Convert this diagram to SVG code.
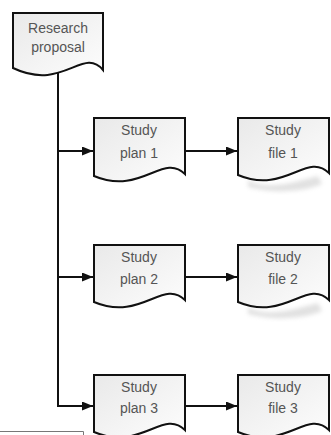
<svg xmlns="http://www.w3.org/2000/svg" width="331" height="435" viewBox="0 0 331 435">
<style>
.box{fill:url(#g);stroke:#111;stroke-width:2}
.t{font-family:"Liberation Sans",Arial,sans-serif;font-size:14px;fill:#555;text-anchor:middle}
.c{stroke:#111;stroke-width:2;fill:none}
.sh{fill:#aaa;opacity:0.35;filter:url(#b)}
</style>
<defs>
<linearGradient id="g" x1="0" y1="0" x2="1" y2="1">
<stop offset="0" stop-color="#e9e9e9"/>
<stop offset="1" stop-color="#fdfdfd"/>
</linearGradient>
<filter id="b" x="-20%" y="-20%" width="140%" height="140%"><feGaussianBlur stdDeviation="2"/></filter>
<marker id="a" markerWidth="11" markerHeight="9" refX="11" refY="4.5" orient="auto" markerUnits="userSpaceOnUse">
<path d="M0,0 L11,4.5 L0,9 Z" fill="#111"/>
</marker>
</defs>
<rect width="331" height="435" fill="#fff"/>
<g id="connectors">
<path class="c" d="M58,72 V406 H93" marker-end="url(#a)"/>
<path class="c" d="M58,151 H93" marker-end="url(#a)"/>
<path class="c" d="M58,277 H93" marker-end="url(#a)"/>
<path class="c" d="M185,151 H237" marker-end="url(#a)"/>
<path class="c" d="M185,277 H237" marker-end="url(#a)"/>
<path class="c" d="M185,406 H237" marker-end="url(#a)"/>
</g>
<g id="research">
<path class="box" d="M13,13 H103 V70 C83,46 63,92 13,68 Z"/>
<text class="t" x="58" y="33">Research</text>
<text class="t" x="58" y="52">proposal</text>
</g>
<g id="plan1">
<path class="box" d="M94,118 H185 V174 C163,152 141,196 94,176 Z"/>
<text class="t" x="139" y="135">Study</text>
<text class="t" x="139" y="158">plan 1</text>
</g>
<g id="file1">
<path class="sh" d="M248,180 C265,190 290,184 318,176 L322,184 C300,193 270,193 248,187 Z"/>
<path class="box" d="M238,118 H329 V173 C307,151 285,195 238,175 Z"/>
<text class="t" x="283" y="135">Study</text>
<text class="t" x="283" y="158">file 1</text>
</g>
<g id="plan2">
<path class="box" d="M94,245 H185 V300 C163,278 141,322 94,302 Z"/>
<text class="t" x="139" y="262">Study</text>
<text class="t" x="139" y="284">plan 2</text>
</g>
<g id="file2">
<path class="sh" d="M248,307 C265,317 290,311 318,303 L322,311 C300,320 270,320 248,314 Z"/>
<path class="box" d="M238,245 H329 V300 C307,278 285,322 238,302 Z"/>
<text class="t" x="283" y="262">Study</text>
<text class="t" x="283" y="284">file 2</text>
</g>
<g id="plan3">
<path class="box" d="M94,375 H185 V430 C163,408 141,452 94,432 Z"/>
<text class="t" x="139" y="392">Study</text>
<text class="t" x="139" y="413">plan 3</text>
</g>
<g id="file3">
<path class="box" d="M238,375 H329 V430 C307,408 285,452 238,432 Z"/>
<text class="t" x="283" y="392">Study</text>
<text class="t" x="283" y="413">file 3</text>
</g>
<path d="M0,431.5 H83.5 V435" fill="none" stroke="#777" stroke-width="1"/>
</svg>
